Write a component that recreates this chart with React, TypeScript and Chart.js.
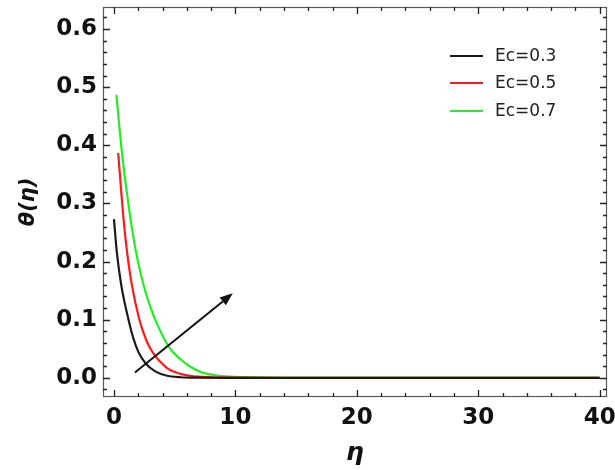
import React, { useEffect, useRef } from "react";
import { Chart, registerables } from "chart.js";

Chart.register(...registerables);

// ---- data ----
const etaBlack = [0, 0.25, 0.6, 1.2, 1.6, 2.0, 2.6, 3.4, 4.3, 5.5, 7, 10, 15, 20, 30, 40];
const thetaBlack = [0.273, 0.214, 0.16, 0.1, 0.068, 0.045, 0.025, 0.011, 0.004, 0.001, 0.0002, 0, 0, 0, 0, 0];

const etaRed = [0.35, 0.8, 1.05, 1.45, 2.1, 2.7, 3.25, 4.3, 5.3, 6.3, 8, 10, 15, 20, 30, 40];
const thetaRed = [0.387, 0.271, 0.222, 0.163, 0.1, 0.063, 0.042, 0.018, 0.008, 0.0035, 0.001, 0.0002, 0, 0, 0, 0];

const etaGreen = [0.2, 0.7, 1.2, 1.6, 2.0, 2.5, 3.0, 3.4, 4.0, 4.6, 5.2, 6.3, 7.3, 8.7, 10, 12, 15, 20, 30, 40];
const thetaGreen = [0.487, 0.38, 0.298, 0.242, 0.198, 0.155, 0.122, 0.1, 0.073, 0.051, 0.037, 0.019, 0.009, 0.0035, 0.0015, 0.0004, 0.0001, 0, 0, 0];

const seriesLabels = ["Ec=0.3", "Ec=0.5", "Ec=0.7"];
const seriesColors = ["#1a1a1a", "#ff1a1a", "#22ee22"];

const arrowEta = [1.73, 9.79];
const arrowTheta = [0.009, 0.1455];

const xTickValues = [0, 10, 20, 30, 40];
const xTickLabels = ["0", "10", "20", "30", "40"];
const yTickValues = [0, 0.1, 0.2, 0.3, 0.4, 0.5, 0.6];
const yTickLabels = ["0.0", "0.1", "0.2", "0.3", "0.4", "0.5", "0.6"];

const X_MIN = -0.9, X_MAX = 40.6, X_MINOR = 2;
const Y_MIN = -0.033, Y_MAX = 0.638, Y_MINOR = 0.02;

const pts = (xs: number[], ys: number[]) => xs.map((x, i) => ({ x, y: ys[i] }));

const framePlugin = {
  id: "frameTicks",
  afterDraw(chart: any) {
    const { ctx, chartArea: a, scales } = chart;
    const x = scales.x, y = scales.y;
    ctx.save();
    // frame
    ctx.strokeStyle = "#5a5a5a";
    ctx.lineWidth = 1.2;
    ctx.strokeRect(a.left + 0.5, a.top + 0.5, a.right - a.left - 1, a.bottom - a.top - 1);
    // ticks
    ctx.strokeStyle = "#222";
    ctx.lineWidth = 1.3;
    ctx.beginPath();
    for (let v = 0; v <= 40.001; v += X_MINOR) {
      const major = Math.abs(v / 10 - Math.round(v / 10)) < 1e-6;
      const px = Math.round(x.getPixelForValue(v)) + 0.5;
      const len = major ? 7 : 4;
      ctx.moveTo(px, a.bottom);
      ctx.lineTo(px, a.bottom - len);
      ctx.moveTo(px, a.top);
      ctx.lineTo(px, a.top + len);
    }
    for (let k = -1; k <= 31; k++) {
      const v = k * Y_MINOR;
      const major = k % 5 === 0;
      const py = Math.round(y.getPixelForValue(v)) + 0.5;
      if (py < a.top + 2 || py > a.bottom - 2) continue;
      const len = major ? 7 : 4;
      ctx.moveTo(a.left, py);
      ctx.lineTo(a.left + len, py);
      ctx.moveTo(a.right, py);
      ctx.lineTo(a.right - len, py);
    }
    ctx.stroke();

    // arrow
    const x0 = x.getPixelForValue(arrowEta[0]);
    const y0 = y.getPixelForValue(arrowTheta[0]);
    const x1 = x.getPixelForValue(arrowEta[1]);
    const y1 = y.getPixelForValue(arrowTheta[1]);
    const ang = Math.atan2(y1 - y0, x1 - x0);
    const head = 13, hw = 5;
    const bx = x1 - head * Math.cos(ang), by = y1 - head * Math.sin(ang);
    ctx.strokeStyle = "#111";
    ctx.fillStyle = "#111";
    ctx.lineWidth = 2;
    ctx.beginPath();
    ctx.moveTo(x0, y0);
    ctx.lineTo(bx, by);
    ctx.stroke();
    ctx.beginPath();
    ctx.moveTo(x1, y1);
    ctx.lineTo(bx + hw * Math.sin(ang), by - hw * Math.cos(ang));
    ctx.lineTo(bx - hw * Math.sin(ang), by + hw * Math.cos(ang));
    ctx.closePath();
    ctx.fill();

    // legend
    const legendX = 450, legendY = [56, 83, 111];
    ctx.font = "17px 'DejaVu Sans'";
    ctx.textBaseline = "middle";
    ctx.textAlign = "left";
    seriesLabels.forEach((lab, i) => {
      ctx.strokeStyle = seriesColors[i];
      ctx.lineWidth = 2;
      ctx.beginPath();
      ctx.moveTo(legendX, legendY[i]);
      ctx.lineTo(legendX + 33, legendY[i]);
      ctx.stroke();
      ctx.fillStyle = "#222";
      ctx.fillText(lab, legendX + 45, legendY[i] + 1);
    });
    ctx.restore();
  },
};

export default function App() {
  const ref = useRef<HTMLCanvasElement | null>(null);
  useEffect(() => {
    if (!ref.current) return;
    const tickFont = { family: "'DejaVu Sans'", weight: "bold" as const, size: 23 };
    const chart = new Chart(ref.current, {
      type: "line",
      data: {
        datasets: [
          { label: seriesLabels[0], data: pts(etaBlack, thetaBlack), borderColor: seriesColors[0] },
          { label: seriesLabels[1], data: pts(etaRed, thetaRed), borderColor: seriesColors[1] },
          { label: seriesLabels[2], data: pts(etaGreen, thetaGreen), borderColor: seriesColors[2] },
        ].map((d) => ({
          ...d,
          borderWidth: 2.2,
          pointRadius: 0,
          fill: false,
          cubicInterpolationMode: "monotone" as const,
        })),
      },
      options: {
        responsive: false,
        animation: false,
        layout: { padding: { top: 7, right: 8, left: 0, bottom: 0 } },
        plugins: { legend: { display: false }, tooltip: { enabled: false } },
        scales: {
          x: {
            type: "linear",
            min: X_MIN,
            max: X_MAX,
            border: { display: false },
            grid: { display: false, drawTicks: false },
            afterBuildTicks: (s: any) => {
              s.ticks = xTickValues.map((v) => ({ value: v }));
            },
            ticks: {
              autoSkip: false,
              maxRotation: 0,
              padding: 7,
              color: "#111",
              font: tickFont,
              callback: (v: any) => {
                const i = xTickValues.indexOf(Number(v));
                return i >= 0 ? xTickLabels[i] : "";
              },
            },
            title: {
              display: true,
              text: "η",
              color: "#111",
              font: { family: "'DejaVu Sans'", weight: "bold", style: "italic", size: 25 },
              padding: { top: 0, bottom: 2 },
            },
            afterFit: (s: any) => {
              s.height = 73;
              s.paddingLeft = 0;
              s.paddingRight = 0;
            },
          },
          y: {
            type: "linear",
            min: Y_MIN,
            max: Y_MAX,
            border: { display: false },
            grid: { display: false, drawTicks: false },
            afterBuildTicks: (s: any) => {
              s.ticks = yTickValues.map((v) => ({ value: v }));
            },
            ticks: {
              autoSkip: false,
              padding: 6,
              color: "#111",
              font: tickFont,
              callback: (v: any) => {
                const i = yTickValues.findIndex((t) => Math.abs(t - Number(v)) < 1e-9);
                return i >= 0 ? yTickLabels[i] : "";
              },
            },
            title: {
              display: true,
              text: "θ(η)",
              color: "#111",
              font: { family: "'DejaVu Sans'", weight: "bold", style: "italic", size: 21 },
              padding: { top: 16, bottom: 0 },
            },
            afterFit: (s: any) => {
              s.width = 103;
              s.paddingTop = 0;
              s.paddingBottom = 0;
            },
          },
        },
      },
      plugins: [framePlugin],
    });
    return () => chart.destroy();
  }, []);
  return (
    <div style={{ position: "absolute", left: 0, top: 0, width: 615, height: 470, background: "#fff" }}>
      <canvas ref={ref} width={615} height={470} style={{ display: "block", width: 615, height: 470 }} />
    </div>
  );
}
